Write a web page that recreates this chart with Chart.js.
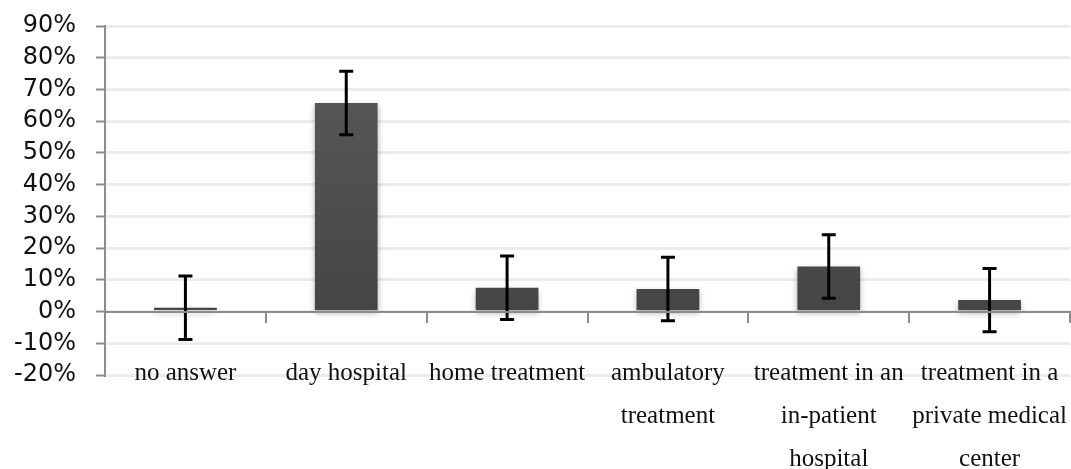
<!DOCTYPE html>
<html>
<head>
<meta charset="utf-8">
<script src="https://cdn.jsdelivr.net/npm/chart.js@4"></script>
<style>
  html, body { margin: 0; padding: 0; background: #fff; }
  #wrap { width: 1071px; height: 469px; }
</style>
</head>
<body>
<div id="wrap"><canvas id="chart"></canvas></div>
<script>
// data (percent)
var categories = [
    ["no answer"],
    ["day hospital"],
    ["home treatment"],
    ["ambulatory", "treatment"],
    ["treatment in an", "in-patient", "hospital"],
    ["treatment in a", "private medical", "center"]
];
var shares = [1.2, 65.7, 7.5, 7.1, 14.2, 3.6];
var errors = [10, 10, 10, 10, 10, 10];

// soft shadow under the bars, then error bars (+/- errors[i]) through the scales
var errorBars = {
    id: 'errorBars',
    beforeDatasetsDraw: function (chart) {
        var ctx = chart.ctx;
        ctx.save();
        ctx.shadowColor = 'rgba(0,0,0,0.3)';
        ctx.shadowBlur = 6;
        ctx.shadowOffsetY = 3;
    },
    afterDatasetsDraw: function (chart) {
        var ctx = chart.ctx, x = chart.scales.x, y = chart.scales.y;
        ctx.restore();
        ctx.save();
        ctx.strokeStyle = '#000';
        ctx.lineWidth = 3;
        shares.forEach(function (v, i) {
            var cx = x.getPixelForValue(i);
            var top = y.getPixelForValue(v + errors[i]);
            var bot = y.getPixelForValue(v - errors[i]);
            ctx.beginPath();
            ctx.moveTo(cx, top); ctx.lineTo(cx, bot);
            ctx.moveTo(cx - 7, top); ctx.lineTo(cx + 7, top);
            ctx.moveTo(cx - 7, bot); ctx.lineTo(cx + 7, bot);
            ctx.stroke();
        });
        ctx.restore();
    }
};

// labels are allowed to overflow, so drop the extra room the scales ask for
function noPadding(s) {
    s.paddingTop = 0; s.paddingBottom = 0;
    s.paddingLeft = 0; s.paddingRight = 0;
}

var ctx = document.getElementById('chart').getContext('2d');
var myChart = new Chart(ctx, {
    type: 'bar',
    data: {
        labels: categories,
        datasets: [{
            data: shares,
            backgroundColor: function (c) {
                var area = c.chart.chartArea;
                if (!area) return '#4d4d4d';
                var g = c.chart.ctx.createLinearGradient(0, area.top, 0, area.bottom);
                g.addColorStop(0, '#5c5c5c');
                g.addColorStop(1, '#404040');
                return g;
            },
            borderWidth: 0,
            barPercentage: 0.78,
            categoryPercentage: 0.5
        }]
    },
    options: {
        responsive: true,
        maintainAspectRatio: false,
        animation: false,
        layout: { padding: { top: 26, right: 1, left: 0, bottom: 94 } },
        plugins: {
            legend: { display: false },
            tooltip: { enabled: false }
        },
        scales: {
            x: {
                position: { y: 0 },
                border: { color: '#8c8c8c', width: 2, z: 1 },
                grid: {
                    drawOnChartArea: false,
                    offset: true,
                    color: '#8c8c8c',
                    lineWidth: 2,
                    tickLength: 10
                },
                ticks: {
                    color: '#111',
                    padding: 30,
                    maxRotation: 0,
                    autoSkip: false,
                    font: { family: 'Liberation Serif', size: 25, lineHeight: 1.72 }
                },
                afterFit: noPadding
            },
            y: {
                min: -20,
                max: 90,
                border: { color: '#8c8c8c', width: 2 },
                grid: {
                    color: '#ececec',
                    lineWidth: 3,
                    tickColor: '#8c8c8c',
                    tickLength: 9,
                    tickWidth: 2
                },
                ticks: {
                    stepSize: 10,
                    autoSkip: false,
                    padding: 20,
                    color: '#111',
                    font: { family: 'DejaVu Sans', size: 24 },
                    callback: function (v) { return v + '%'; }
                },
                afterFit: function (s) { s.width = 105; noPadding(s); }
            }
        }
    },
    plugins: [errorBars]
});
</script>
</body>
</html>
